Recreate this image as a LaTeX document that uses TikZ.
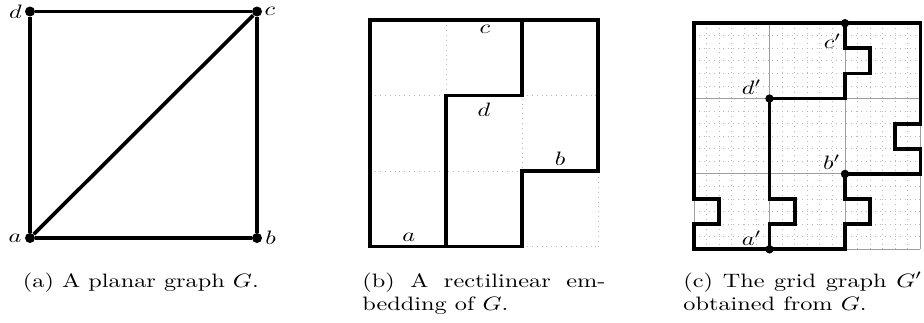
\documentclass[tikz,border=0pt]{standalone}
\usepackage{graphicx}
\newcommand\tx[1]{\scalebox{1.215}[0.97]{#1}}
\tikzset{
  thickedge/.style={line width=1.85pt, line join=miter},
  vdot/.style={circle, fill=black, inner sep=0pt, minimum size=5pt},
  vdotc/.style={circle, fill=black, inner sep=0pt, minimum size=4.2pt},
  lbl/.style={inner sep=0pt},
  captext/.style={inner sep=0pt, anchor=base west},
  finegrid/.style={gray!55, dotted, line width=0.45pt},
  majorgrid/.style={gray!75, line width=0.45pt},
}
\begin{document}
\begin{tikzpicture}[x=0.5pt,y=-0.5pt]
\useasboundingbox (0,0) rectangle (924,322);

% ---------- panel (a)
\node[vdot] (a) at (30,238) {};
\node[vdot] (b) at (257,238) {};
\node[vdot] (c) at (257,11.5) {};
\node[vdot] (d) at (30,11.5) {};
\draw[thickedge] (a) -- (b);
\draw[thickedge] (b) -- (c);
\draw[thickedge] (c) -- (d);
\draw[thickedge] (d) -- (a);
\draw[thickedge] (a) -- (c);
\node[lbl] (la) at (15,238) {\tx{$a$}};
\node[lbl] (lb) at (270.5,238) {\tx{$b$}};
\node[lbl] (lc) at (270,11.5) {\tx{$c$}};
\node[lbl] (ld) at (15.5,12) {\tx{$d$}};

% ---------- panel (b)
\begin{scope}[shift={(370,246.5)}, x=38pt, y=37.75pt]
  \draw[finegrid] (0,0) grid[step=1] (3,3);
  \draw[thickedge] (0,0) -- (0,3) -- (3,3) -- (3,1) -- (2,1) -- (2,0) -- cycle;
  \draw[thickedge] (1,0) -- (1,2) -- (2,2) -- (2,3);
  \node[lbl] (rc) at (1.51,2.88) {\tx{$c$}};
  \node[lbl] (rd) at (1.50,1.81) {\tx{$d$}};
  \node[lbl] (rb) at (2.50,1.16) {\tx{$b$}};
  \node[lbl] (ra) at (0.51,0.12) {\tx{$a$}};
\end{scope}

% ---------- panel (c)
\begin{scope}[shift={(694,249.3)}, x=6.29pt, y=6.28pt]
  \draw[finegrid] (0,0) grid[step=1] (18,18);
  \foreach \k in {0,6,12,18} {
    \draw[majorgrid] (\k,0) -- (\k,18);
    \draw[majorgrid] (0,\k) -- (18,\k);
  }
  \node[vdotc] (cp) at (12,18) {};
  \node[vdotc] (dp) at (6,12) {};
  \node[vdotc] (bp) at (12,6) {};
  \node[vdotc] (ap) at (6,0) {};
  \draw[thickedge] (0,18) -- (0,4) -- (2,4) -- (2,2) -- (0,2) -- (0,0)
     -- (12,0) -- (12,2) -- (14,2) -- (14,4) -- (12,4) -- (bp.center)
     -- (18,6) -- (18,8) -- (16,8) -- (16,10) -- (18,10) -- (18,18) -- cycle;
  \draw[thickedge] (cp.center) -- (12,16) -- (14,16) -- (14,14) -- (12,14)
     -- (12,12) -- (dp.center);
  \draw[thickedge] (dp.center) -- (6,4) -- (8,4) -- (8,2) -- (6,2) -- (ap.center);
\end{scope}
\node[lbl] (lcp) at (832.5,41.7) {\tx{$c'$}};
\node[lbl] (ldp) at (751.7,87.7) {\tx{$d'$}};
\node[lbl] (lbp) at (831.7,162) {\tx{$b'$}};
\node[lbl] (lap) at (751.7,237.8) {\tx{$a'$}};

% ---------- captions
\node[captext] (capa) at (22.5,287) {\tx{(a) A planar graph $G$.}};
\node[captext] (capb1) at (362,287) {\tx{\makebox[100pt][s]{(b) A rectilinear em-}}};
\node[captext] (capb2) at (362,310) {\tx{bedding of $G$.}};
\node[captext] (capc1) at (683,287) {\tx{\makebox[98.3pt][s]{(c) The grid graph $G'$}}};
\node[captext] (capc2) at (683,310) {\tx{obtained from $G$.}};
\end{tikzpicture}
\end{document}
